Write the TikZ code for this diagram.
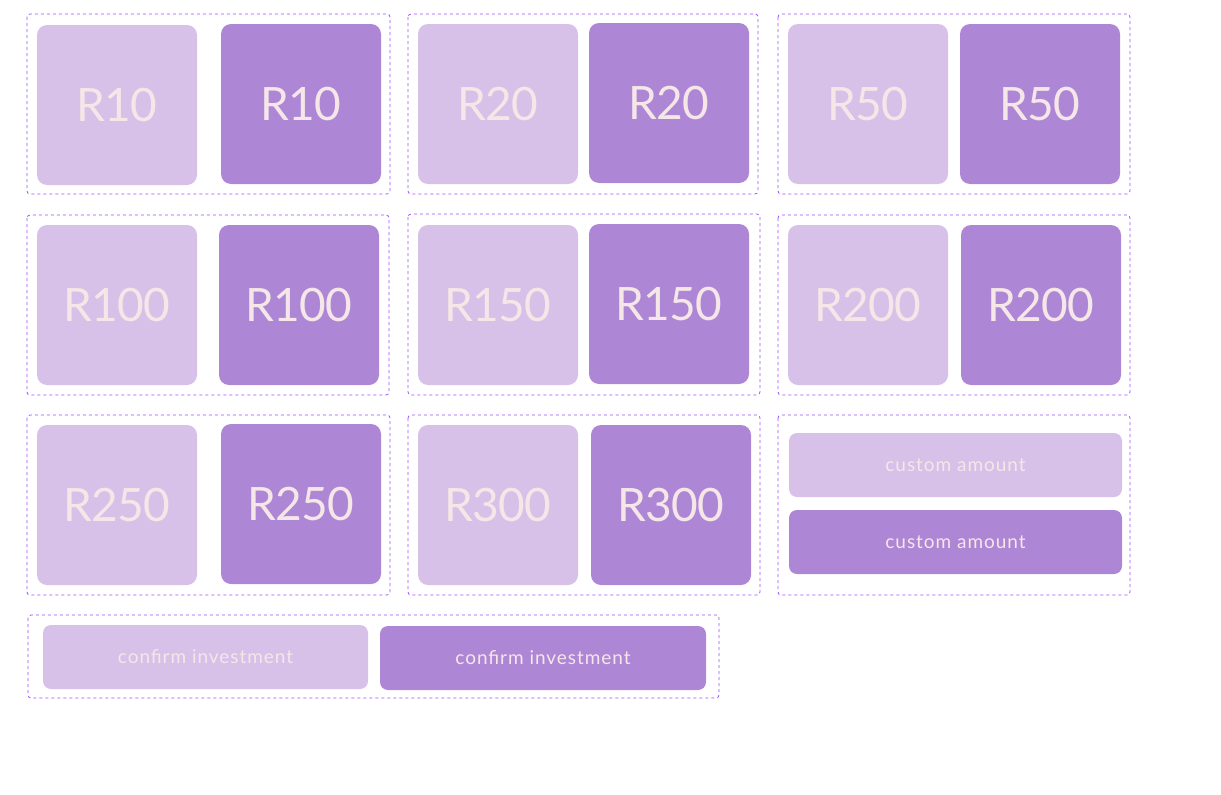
\documentclass[tikz,border=0pt]{standalone}
\usepackage{fontspec}
\setmainfont{Lato}
\definecolor{lt}{HTML}{D7C1E9}
\definecolor{dk}{HTML}{AE86D6}
\definecolor{tx}{HTML}{F5E6E8}
\definecolor{fr}{HTML}{9F4DFF}
\begin{document}
\begin{tikzpicture}[x=1pt,y=-1pt,
 frame/.style={draw=fr,dashed,line width=0.8pt,rounded corners=3pt},
 tile/.style={rounded corners=10pt,text=tx,font=\fontsize{46}{46}\selectfont\addfontfeature{LetterSpace=-2}},
 btn/.style={rounded corners=8pt,text=tx,font=\fontsize{19}{19}\selectfont\addfontfeature{LetterSpace=5}}]
\useasboundingbox (0,0) rectangle (1221,795);
\newcommand\fr[4]{\draw[frame] (#1,#2) rectangle (#3,#4);}
\newcommand\tl[6]{\fill[#5,rounded corners=10pt] (#1,#2) rectangle (#3,#4); \node[tile] at ({(#1+#3)/2},{(#2+#4)/2}) {#6};}
\newcommand\bt[6]{\fill[#5,rounded corners=8pt] (#1,#2) rectangle (#3,#4); \node[btn] at ({(#1+#3)/2},{(#2+#4)/2}) {#6};}
\fr{27}{14}{390}{194}\fr{408}{14}{758}{194}\fr{778}{14}{1130}{194}
\fr{27}{215}{389}{395}\fr{408}{214}{760}{395}\fr{778}{215}{1130}{395}
\fr{27}{415}{390}{595}\fr{408}{415}{760}{595}\fr{778}{415}{1130}{595}
\fr{28}{615}{719}{698}
\tl{37}{25}{197}{185}{lt}{R10}\tl{221}{24}{381}{184}{dk}{R10}
\tl{418}{24}{578}{184}{lt}{R20}\tl{589}{23}{749}{183}{dk}{R20}
\tl{788}{24}{948}{184}{lt}{R50}\tl{960}{24}{1120}{184}{dk}{R50}
\tl{37}{225}{197}{385}{lt}{R100}\tl{219}{225}{379}{385}{dk}{R100}
\tl{418}{225}{578}{385}{lt}{R150}\tl{589}{224}{749}{384}{dk}{R150}
\tl{788}{225}{948}{385}{lt}{R200}\tl{961}{225}{1121}{385}{dk}{R200}
\tl{37}{425}{197}{585}{lt}{R250}\tl{221}{424}{381}{584}{dk}{R250}
\tl{418}{425}{578}{585}{lt}{R300}\tl{591}{425}{751}{585}{dk}{R300}
\bt{789}{433}{1122}{497}{lt}{custom amount}\bt{789}{510}{1122}{574}{dk}{custom amount}
\bt{43}{625}{368}{689}{lt}{confirm investment}\bt{380}{626}{706}{690}{dk}{confirm investment}
\end{tikzpicture}
\end{document}
